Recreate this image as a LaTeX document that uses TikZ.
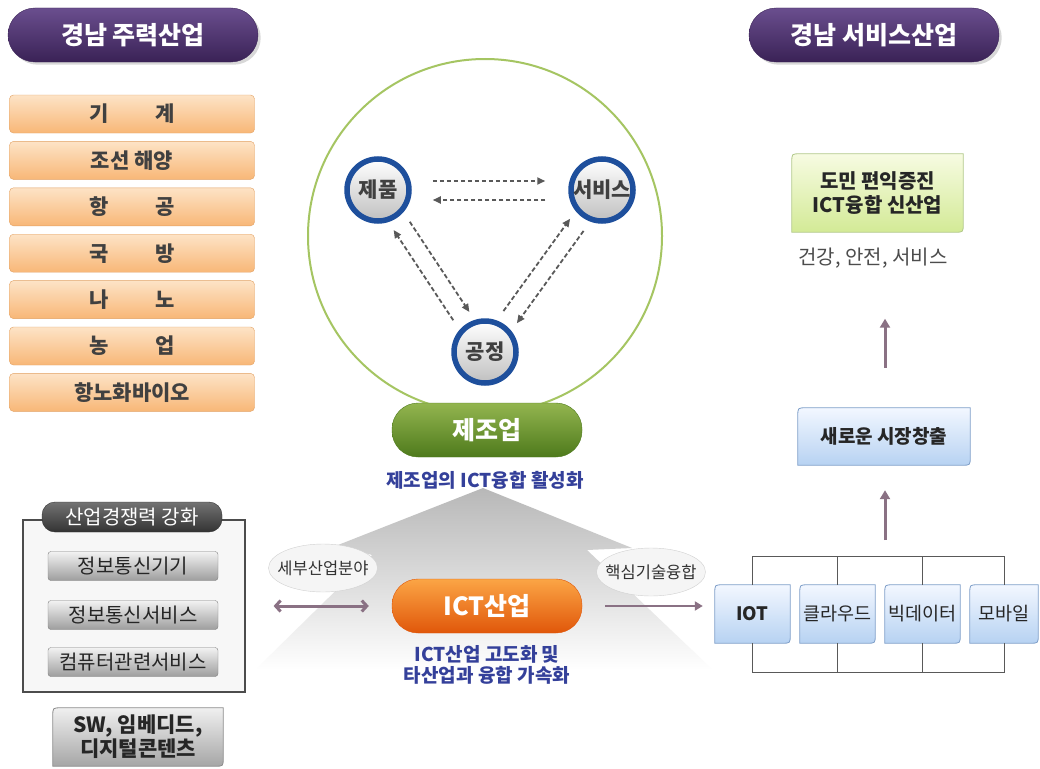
\documentclass[tikz,border=0pt]{standalone}
\usepackage{fontspec}
\setmainfont{Noto Sans CJK KR}
\usetikzlibrary{arrows.meta,calc,shapes.geometric,shadows,backgrounds}

\definecolor{pilltop}{HTML}{6A4E8E}
\definecolor{pillbot}{HTML}{3A2256}
\definecolor{ortop}{HTML}{FDE3C6}
\definecolor{orbot}{HTML}{F8B777}
\definecolor{oredge}{HTML}{E2A163}
\definecolor{ringgreen}{HTML}{A5C562}
\definecolor{ringblue}{HTML}{1E4F9C}
\definecolor{mfgtop}{HTML}{93B54F}
\definecolor{mfgbot}{HTML}{4E7A1C}
\definecolor{icttop}{HTML}{FBA545}
\definecolor{ictbot}{HTML}{E0570A}
\definecolor{navytext}{HTML}{34409A}
\definecolor{mauve}{HTML}{8A7184}
\definecolor{limetop}{HTML}{F7FBE2}
\definecolor{limebot}{HTML}{D3EA96}
\definecolor{limeedge}{HTML}{B2C98A}
\definecolor{bluetop}{HTML}{F2F7FF}
\definecolor{bluebot}{HTML}{B7D2F2}
\definecolor{blueedge}{HTML}{7F9FC9}

% box with two rounded corners (top left, bottom right)
\newcommand{\cutbox}[2]{%
  \begin{scope}[on background layer]
    \path[#2] (#1.north east) -- ([yshift=8pt]#1.south east)
      .. controls (#1.south east) .. ([xshift=-8pt]#1.south east)
      -- (#1.south west) -- ([yshift=-8pt]#1.north west)
      .. controls (#1.north west) .. ([xshift=8pt]#1.north west) -- cycle;
  \end{scope}}

\begin{document}
\begin{tikzpicture}[x=1pt, y=-1pt,
    title/.style={rounded corners=27pt, top color=pilltop, bottom color=pillbot, draw=pillbot,
      minimum width=250pt, minimum height=54pt, text=white,
      font=\fontsize{25}{28}\selectfont\bfseries, drop shadow={opacity=0.3}},
    mainbar/.style={rounded corners=4pt, top color=ortop, bottom color=orbot, draw=oredge,
      minimum width=245pt, minimum height=38pt, text=black!75,
      font=\fontsize{21}{24}\selectfont\bfseries},
    hub/.style={circle, draw=ringblue, line width=5.5pt, top color=white, bottom color=black!25,
      minimum size=62pt, inner sep=0pt, text=black!75, font=\fontsize{21}{24}\selectfont\bfseries},
    dasharrow/.style={draw=black!65, line width=1.8pt, dash pattern=on 4.5pt off 2.5pt,
      -{Triangle[length=8pt,width=7pt]}, shorten <=44pt, shorten >=42pt},
    bigpill/.style={rounded corners=26pt, minimum width=190pt, minimum height=54pt, text=white,
      font=\fontsize{25}{28}\selectfont\bfseries},
    navy/.style={text=navytext, font=\fontsize{19}{21}\selectfont\bfseries, align=center},
    tag/.style={ellipse, draw=black!18, fill=black!4, minimum width=108pt, minimum height=48pt,
      inner xsep=-7pt, inner ysep=0pt, text=black!80, font=\fontsize{16.5}{19}\selectfont},
    mauvearrow/.style={draw=mauve, line width=3pt},
    graybtn/.style={rounded corners=3pt, top color=black!5, bottom color=black!38, draw=black!50,
      minimum width=170pt, minimum height=29pt, text=black!85, font=\fontsize{20}{22}\selectfont},
    boxtext/.style={font=\fontsize{20}{24}\selectfont\bfseries, text=black!85, align=center, inner sep=0pt},
    limebox/.style={top color=limetop, bottom color=limebot, draw=limeedge, line width=0.8pt},
    bluebox/.style={top color=bluetop, bottom color=bluebot, draw=blueedge, line width=0.8pt},
    graybox/.style={top color=black!6, bottom color=black!35, draw=black!45, line width=0.8pt},
    brline/.style={draw=black!65, line width=0.8pt}]
  \useasboundingbox (0,0) rectangle (1040,768);
  \begin{scope}[on background layer]
    \fill[white] (0,0) rectangle (1040,768);
  \end{scope}

  %titles
  \node[title] (maintitle) at (133,35) {경남 주력산업};
  \node[title] (servtitle) at (874,35) {경남 서비스산업};

  %main industries
  \foreach \lbl [count=\i] in {기\hspace{2.2em}계, 조선 해양, 항\hspace{2.2em}공, 국\hspace{2.2em}방,
      나\hspace{2.2em}노, 농\hspace{2.2em}업, 항노화바이오}{
    \node[mainbar] (bar\i) at (132, {114+46.4*(\i-1)}) {\lbl};
  }

  %gray arrow
  \shade[top color=black!28, bottom color=white]
    (483,488) -- (338,545) -- (372,555) -- (257,668) -- (713,670) -- (587,550) -- (632,548) -- cycle;

  %manufacturing circle
  \draw[ringgreen, line width=2pt] (485,236) circle[radius=177pt];
  \node[hub] (jepum) at (378,190) {제품};
  \node[hub] (service) at (602,190) {서비스};
  \node[hub] (gongjeong) at (485,352) {공정};

  \draw[dasharrow, shorten <=21pt, shorten >=23pt] ([yshift=9pt]jepum.east) -- ([yshift=9pt]service.west);
  \draw[dasharrow, shorten <=23pt, shorten >=21pt] ([yshift=-10pt]service.west) -- ([yshift=-10pt]jepum.east);
  \draw[dasharrow] ($(jepum)!9pt!90:(gongjeong)$) -- ($(gongjeong)!9pt!-90:(jepum)$);
  \draw[dasharrow] ($(gongjeong)!9pt!90:(jepum)$) -- ($(jepum)!9pt!-90:(gongjeong)$);
  \draw[dasharrow] ($(gongjeong)!9pt!90:(service)$) -- ($(service)!9pt!-90:(gongjeong)$);
  \draw[dasharrow] ($(service)!9pt!90:(gongjeong)$) -- ($(gongjeong)!9pt!-90:(service)$);

  \node[bigpill, top color=mfgtop, bottom color=mfgbot, draw=mfgbot] (mfg) at (487,430) {제조업};
  \node[navy] (mfgnote) at (485,480) {제조업의 ICT융합 활성화};

  %ICT industry
  \node[bigpill, top color=icttop, bottom color=ictbot, draw=ictbot] (ictind) at (487,606) {ICT산업};
  \node[navy] (ictnote) at (487,665) {ICT산업 고도화 및\\타산업과 융합 가속화};
  \node[tag] (detail) at (323,568) {세부산업분야};
  \node[tag] (coretech) at (651,572) {핵심기술융합};

  %competitiveness
  \node[draw=black!70, fill=black!3, line width=1.2pt, minimum width=222pt, minimum height=172pt] (compbox) at (134,606) {};
  \node[rounded corners=13pt, top color=black!55, bottom color=black!80, draw=black!80,
    minimum width=180pt, minimum height=30pt, text=white, font=\fontsize{20}{22}\selectfont] (compete) at (132,517) {산업경쟁력 강화};
  \foreach \t/\y/\n in {정보통신기기/566/devices, 정보통신서비스/615/itserv, 컴퓨터관련서비스/662/compserv}{
    \node[graybtn] (\n) at (133,\y) {\t};
  }
  \node[boxtext, font=\fontsize{21}{24}\selectfont\bfseries, minimum width=170pt, minimum height=58pt] (swbox) at (138,737) {SW, 임베디드,\\디지털콘텐츠};
  \cutbox{swbox}{graybox}

  \draw[mauvearrow, {Straight Barb[length=5pt,width=11pt]}-{Straight Barb[length=5pt,width=11pt]},
    shorten <=28pt, shorten >=23pt] (compbox.east |- ictind.west) -- (ictind.west);

  %service side
  \node[boxtext, minimum width=171pt, minimum height=78pt] (benefit) at (877.5,193) {도민 편익증진\\ICT융합 신산업};
  \cutbox{benefit}{limebox}
  \node[text=black!70, font=\fontsize{20}{22}\selectfont] (fields) at (873,258) {건강, 안전, 서비스};
  \node[boxtext, font=\fontsize{19}{22}\selectfont\bfseries, minimum width=172pt, minimum height=57pt] (market) at (884,436.5) {새로운 시장창출};
  \cutbox{market}{bluebox}

  \foreach \t/\x/\w/\n in {\textbf{IOT}/752.5/75/iot, 클라우드/837.5/75/cloud, 빅데이터/922.5/75/bigdata, 모바일/1004/68/mobile}{
    \node[boxtext, font=\fontsize{18.5}{21}\selectfont, minimum width=\w pt, minimum height=58pt] (\n) at (\x,614) {\t};
    \cutbox{\n}{bluebox}
  }
  \draw[brline] (iot.north) -- ++(0,-28) -| (mobile.north);
  \draw[brline] (cloud.north) -- ++(0,-28);
  \draw[brline] (bigdata.north) -- ++(0,-28);
  \draw[brline] (iot.south) -- ++(0,29) -| (mobile.south);
  \draw[brline] (cloud.south) -- ++(0,29);
  \draw[brline] (bigdata.south) -- ++(0,29);

  \coordinate (brtop) at (885,557);
  \draw[mauvearrow, -{Triangle[length=9pt,width=10pt]}, shorten <=17pt, shorten >=25pt] (brtop) -- (brtop |- market.south);
  \draw[mauvearrow, -{Triangle[length=9pt,width=10pt]}, shorten <=40pt, shorten >=47pt] ([xshift=1pt]market.north) -- ([xshift=1pt]market.north |- fields.south);
  \draw[mauvearrow, line width=2.5pt, -{Triangle[length=8pt,width=9pt]}, shorten <=23pt, shorten >=12pt] (ictind.east) -- (ictind.east -| iot.west);
\end{tikzpicture}
\end{document}
